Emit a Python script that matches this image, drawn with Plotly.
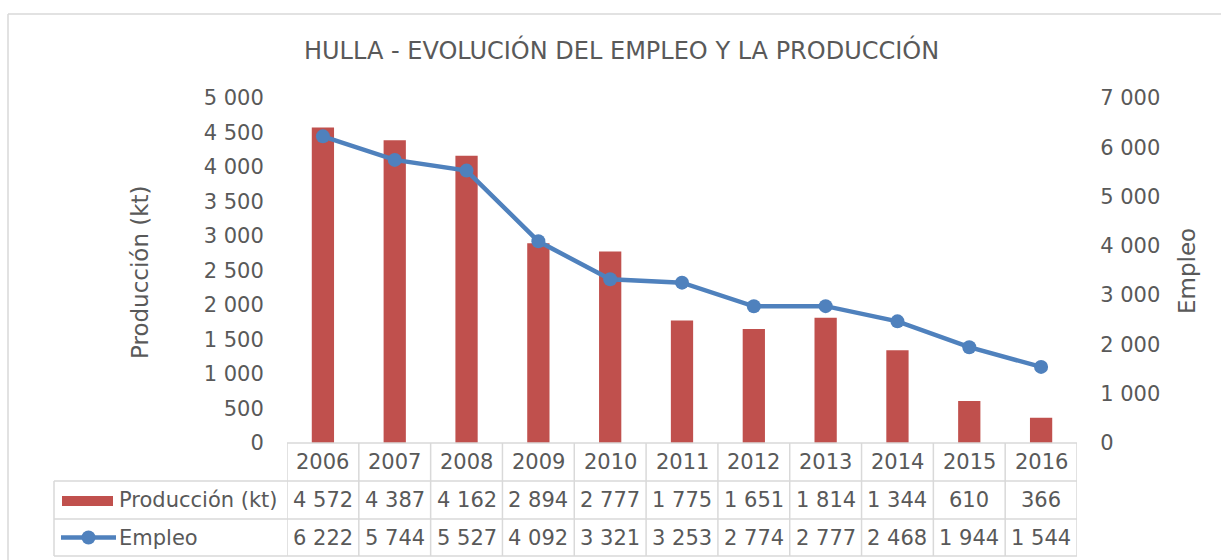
import plotly.graph_objects as go

years = ["2006", "2007", "2008", "2009", "2010", "2011", "2012", "2013", "2014", "2015", "2016"]
produccion = [4572, 4387, 4162, 2894, 2777, 1775, 1651, 1814, 1344, 610, 366]
empleo = [6222, 5744, 5527, 4092, 3321, 3253, 2774, 2777, 2468, 1944, 1544]
title_text = "HULLA - EVOLUCIÓN DEL EMPLEO Y LA PRODUCCIÓN"
name_prod = "Producción (kt)"
name_emp = "Empleo"

W, H = 1221, 560
FONT = "DejaVu Sans, sans-serif"
TXT = "#595959"
GRID = "#D9D9D9"
BAR = "#C0504D"
LINE = "#4F81BD"
FS = 21

def px(x):
    return x / W

def py(y):
    return 1 - y / H

PLOT_L, PLOT_R = 287, 1077
PLOT_T, PLOT_B = 98, 443
ROW1, ROW2, ROW3 = 481, 519, 556
LEG_L = 54

xs = list(range(len(years)))

fig = go.Figure()
fig.add_trace(go.Bar(x=xs, y=produccion, name=name_prod, marker_color=BAR,
                     width=0.31, yaxis="y", showlegend=False))
fig.add_trace(go.Scatter(x=xs, y=empleo, name=name_emp, mode="lines+markers",
                         line=dict(color=LINE, width=4.5), marker=dict(size=14, color=LINE),
                         yaxis="y2", showlegend=False))

shapes = []
shapes.append(dict(type="line", xref="paper", yref="paper", x0=px(8), x1=1.01, y0=py(14), y1=py(14),
                   line=dict(color=GRID, width=1.5)))
shapes.append(dict(type="line", xref="paper", yref="paper", x0=px(8), x1=px(8), y0=py(14), y1=-0.01,
                   line=dict(color=GRID, width=1.5)))
shapes.append(dict(type="line", xref="paper", yref="paper", x0=px(PLOT_L), x1=px(PLOT_R), y0=py(PLOT_B), y1=py(PLOT_B),
                   line=dict(color=GRID, width=1.5)))
for yy in (ROW1, ROW2, ROW3):
    shapes.append(dict(type="line", xref="paper", yref="paper", x0=px(LEG_L), x1=px(PLOT_R), y0=py(yy), y1=py(yy),
                       line=dict(color=GRID, width=1.5)))
for i in range(len(years) + 1):
    shapes.append(dict(type="line", xref="x", yref="paper", x0=i - 0.5, x1=i - 0.5, y0=py(PLOT_B), y1=py(ROW3),
                       line=dict(color=GRID, width=1.5)))
shapes.append(dict(type="line", xref="paper", yref="paper", x0=px(LEG_L), x1=px(LEG_L), y0=py(ROW1), y1=py(ROW3),
                   line=dict(color=GRID, width=1.5)))
shapes.append(dict(type="rect", xref="paper", yref="paper", x0=px(62), x1=px(113), y0=py(506), y1=py(496),
                   line=dict(width=0), fillcolor=BAR))
shapes.append(dict(type="line", xref="paper", yref="paper", x0=px(61), x1=px(116), y0=py(537.5), y1=py(537.5),
                   line=dict(color=LINE, width=4.5)))
shapes.append(dict(type="circle", xref="paper", yref="paper", x0=px(81.5), x1=px(95.5), y0=py(530.5), y1=py(544.5),
                   line=dict(width=0), fillcolor=LINE))

def fmt(v):
    return f"{v:,}".replace(",", " ")

ann = []
for i, yr in enumerate(years):
    ann.append(dict(x=i, xref="x", y=py((PLOT_B + ROW1) / 2), yref="paper", text=yr, showarrow=False,
                    font=dict(size=FS, color=TXT, family=FONT), xanchor="center", yanchor="middle"))
    ann.append(dict(x=i, xref="x", y=py((ROW1 + ROW2) / 2), yref="paper", text=fmt(produccion[i]), showarrow=False,
                    font=dict(size=FS, color=TXT, family=FONT), xanchor="center", yanchor="middle"))
    ann.append(dict(x=i, xref="x", y=py((ROW2 + ROW3) / 2), yref="paper", text=fmt(empleo[i]), showarrow=False,
                    font=dict(size=FS, color=TXT, family=FONT), xanchor="center", yanchor="middle"))
ann.append(dict(x=px(117), xref="paper", y=py((ROW1 + ROW2) / 2), yref="paper", text=name_prod, showarrow=False,
                font=dict(size=FS, color=TXT, family=FONT), xanchor="left", yanchor="middle"))
ann.append(dict(x=px(117), xref="paper", y=py((ROW2 + ROW3) / 2), yref="paper", text=name_emp, showarrow=False,
                font=dict(size=FS, color=TXT, family=FONT), xanchor="left", yanchor="middle"))
ann.append(dict(x=px(621), xref="paper", y=py(50), yref="paper", text=title_text, showarrow=False,
                font=dict(size=24, color=TXT, family=FONT), xanchor="center", yanchor="middle"))
ann.append(dict(x=px(140), xref="paper", y=py(272), yref="paper", text=name_prod, showarrow=False, textangle=-90,
                font=dict(size=23, color=TXT, family=FONT), xanchor="center", yanchor="middle"))
ann.append(dict(x=px(1187), xref="paper", y=py(271), yref="paper", text=name_emp, showarrow=False, textangle=-90,
                font=dict(size=23, color=TXT, family=FONT), xanchor="center", yanchor="middle"))

fig.update_layout(
    template="none",
    width=W, height=H, autosize=False,
    margin=dict(l=0, r=0, t=0, b=0, pad=0, autoexpand=False),
    paper_bgcolor="white", plot_bgcolor="white",
    separators=", ",
    font=dict(family=FONT, color=TXT, size=FS),
    xaxis=dict(domain=[px(PLOT_L), px(PLOT_R)], range=[-0.5, len(years) - 0.5], showticklabels=False,
               showgrid=False, zeroline=False, showline=False, ticks="", automargin=False),
    yaxis=dict(domain=[py(PLOT_B), py(PLOT_T)], range=[0, 5000], dtick=500, tick0=0, tickformat=",d",
               showgrid=False, zeroline=False, showline=False, ticks="outside", ticklen=18, tickcolor="rgba(0,0,0,0)",
               tickfont=dict(size=FS, color=TXT, family=FONT), automargin=False),
    yaxis2=dict(domain=[py(PLOT_B), py(PLOT_T)], range=[0, 7000], dtick=1000, tick0=0, tickformat=",d",
                overlaying="y", side="right", anchor="x",
                showgrid=False, zeroline=False, showline=False, ticks="outside", ticklen=18, tickcolor="rgba(0,0,0,0)",
                tickfont=dict(size=FS, color=TXT, family=FONT), automargin=False),
    shapes=shapes, annotations=ann,
)
post = ("document.body.style.margin='0';document.body.style.overflow='hidden';"
        "var d=document.getElementById('{plot_id}');d.style.position='fixed';d.style.top='0';d.style.left='0';")
fig.write_html("out.html", config={"displayModeBar": False}, post_script=post)
